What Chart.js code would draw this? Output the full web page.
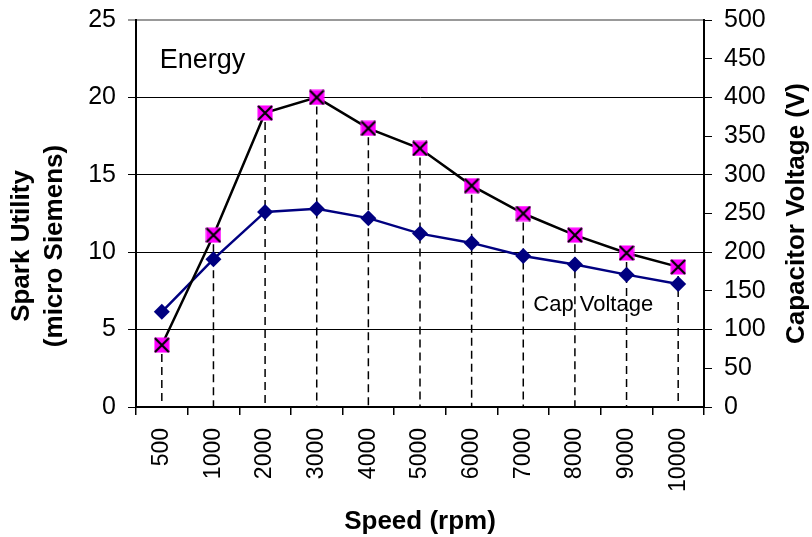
<!DOCTYPE html>
<html>
<head>
<meta charset="utf-8">
<script src="https://cdn.jsdelivr.net/npm/chart.js@4"></script>
<style>
  html, body { margin: 0; padding: 0; background: #fff; }
  #wrap { width: 812px; height: 537px; }
</style>
</head>
<body>
<div id="wrap"><canvas id="chart" width="812" height="537"></canvas></div>
<script>
// speed categories (rpm)
const speeds = ['500', '1000', '2000', '3000', '4000', '5000', '6000', '7000', '8000', '9000', '10000'];
// spark utility, left axis (micro Siemens)
const energy = [4.0, 11.1, 19.0, 20.0, 18.0, 16.7, 14.3, 12.5, 11.1, 9.95, 9.05];
// capacitor voltage, right axis (V)
const capVoltage = [123, 191, 252, 256, 244, 224, 212, 195, 184, 171, 159];

const FONT = 'Arial, "Liberation Sans", sans-serif';

// magenta square with a black cross
function crossMarker() {
    const c = document.createElement('canvas');
    c.width = 16; c.height = 16;
    const g = c.getContext('2d');
    g.fillStyle = '#ff00ff';
    g.fillRect(0.5, 0.5, 15, 15);
    g.strokeStyle = '#000';
    g.lineWidth = 2.2;
    g.beginPath();
    g.moveTo(1, 1); g.lineTo(15, 15);
    g.moveTo(15, 1); g.lineTo(1, 15);
    g.stroke();
    return c;
}

// dashed drop lines under the energy points
const dropLines = {
    id: 'dropLines',
    beforeDatasetsDraw(chart) {
        const meta = chart.getDatasetMeta(0);
        const bottom = chart.scales.y.getPixelForValue(0);
        const ctx = chart.ctx;
        ctx.save();
        ctx.strokeStyle = '#000';
        ctx.lineWidth = 1.5;
        ctx.setLineDash([8, 5]);
        meta.data.forEach(pt => {
            ctx.beginPath();
            ctx.moveTo(pt.x, pt.y + 9);
            ctx.lineTo(pt.x, bottom);
            ctx.stroke();
        });
        ctx.restore();
    }
};

// series labels inside the plot, and the two vertical axis titles (read bottom to top)
const textLabels = {
    id: 'textLabels',
    afterDraw(chart) {
        const { x, y } = chart.scales;
        const area = chart.chartArea;
        const ctx = chart.ctx;
        ctx.save();
        ctx.fillStyle = '#000';
        ctx.textBaseline = 'alphabetic';
        ctx.textAlign = 'left';
        ctx.font = '27px ' + FONT;
        ctx.fillText('Energy', x.getPixelForValue(0) - 2, y.getPixelForValue(21.9));
        ctx.font = '22px ' + FONT;
        ctx.fillText('Cap Voltage', x.getPixelForValue(7) + 10, y.getPixelForValue(6.2));

        ctx.textAlign = 'center';
        ctx.textBaseline = 'middle';
        ctx.font = 'bold 26px ' + FONT;
        ctx.save();
        ctx.translate(22, 246);
        ctx.rotate(-Math.PI / 2);
        ctx.fillText('Spark Utility', 0, 0);
        ctx.fillText('(micro Siemens)', 0, 33);
        ctx.restore();

        ctx.translate(797, (area.top + area.bottom) / 2);
        ctx.rotate(-Math.PI / 2);
        ctx.fillText('Capacitor Voltage (V)', 0, 0);
        ctx.restore();
    }
};

new Chart(document.getElementById('chart'), {
    type: 'line',
    data: {
        labels: speeds,
        datasets: [{
            label: 'Energy',
            data: energy,
            yAxisID: 'y',
            borderColor: '#000',
            borderWidth: 2.5,
            pointStyle: crossMarker(),
            tension: 0
        }, {
            label: 'Cap Voltage',
            data: capVoltage,
            yAxisID: 'y1',
            borderColor: '#000080',
            borderWidth: 2.5,
            pointStyle: 'rectRot',
            pointRadius: 8,
            pointBackgroundColor: '#000080',
            pointBorderColor: '#000080',
            pointBorderWidth: 0,
            tension: 0
        }]
    },
    options: {
        responsive: false,
        animation: false,
        events: [],
        layout: { padding: { top: 20, left: 0, right: 0, bottom: 0 } },
        plugins: {
            legend: { display: false },
            tooltip: { enabled: false }
        },
        scales: {
            x: {
                offset: true,
                grid: { offset: true, drawOnChartArea: false, color: '#000', tickLength: 8, lineWidth: 1.5 },
                border: { color: '#000', width: 2 },
                ticks: { color: '#000', font: { family: FONT, size: 23 }, minRotation: 90, maxRotation: 90, padding: 13 },
                title: { display: true, text: 'Speed (rpm)', color: '#000', font: { family: FONT, size: 26, weight: 'bold' }, padding: { top: 0, bottom: 0 } },
                afterFit(s) { s.height = 130; s.paddingLeft = 0; s.paddingRight = 0; }
            },
            y: {
                position: 'left',
                min: 0, max: 25,
                ticks: { stepSize: 5, color: '#000', font: { family: FONT, size: 25 }, padding: 12 },
                grid: {
                    color: ctx => ctx.tick && ctx.tick.value === 25 ? '#999' : '#000',
                    lineWidth: ctx => ctx.tick && ctx.tick.value === 25 ? 2 : 1,
                    tickLength: 8
                },
                border: { color: '#000', width: 2 },
                afterFit(s) { s.width = 136; s.paddingTop = 0; s.paddingBottom = 0; }
            },
            y1: {
                position: 'right',
                min: 0, max: 500,
                ticks: { stepSize: 50, color: '#000', font: { family: FONT, size: 25 }, padding: 12 },
                grid: { drawOnChartArea: false, color: '#000', tickLength: 8 },
                border: { color: '#000', width: 2 },
                afterFit(s) { s.width = 108; s.paddingTop = 0; s.paddingBottom = 0; }
            }
        }
    },
    plugins: [dropLines, textLabels]
});
</script>
</body>
</html>
